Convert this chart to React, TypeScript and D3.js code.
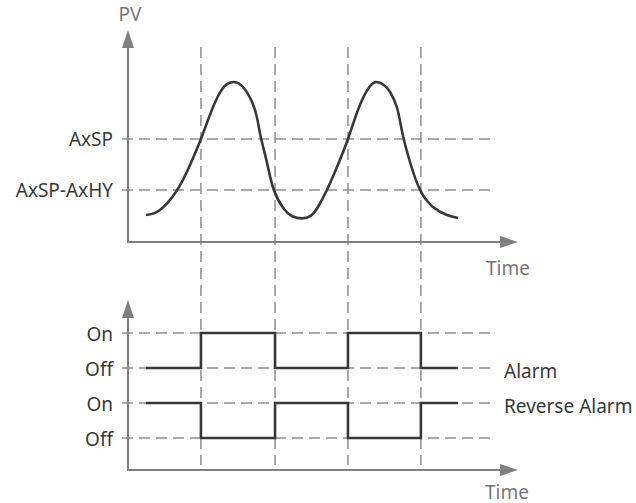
import React from "react";
import * as d3 from "d3";

// PV curve samples (time units 0..100, PV units 0..100)
const pvTime = [4.6, 8.2, 12.6, 15.9, 18.7, 21.0, 23.1, 25.1, 27.2, 29.5, 31.8, 33.1, 34.1, 35.6, 37.4, 40.0, 42.1, 44.6, 46.9, 48.7, 51.0, 53.8, 56.4, 58.5, 60.5, 62.1, 63.6, 65.6, 67.2, 69.0, 70.3, 72.3, 74.9, 78.2, 81.8, 84.6];
const pvValue = [13.5, 16, 26, 38.5, 51.5, 63.5, 73, 78.5, 80, 77.5, 70, 62, 52, 40, 26, 16.5, 12.9, 11.8, 13.2, 17.5, 26, 38.5, 51.5, 63.5, 73, 78, 80, 78.5, 75, 67, 55, 40, 26, 17.5, 13.5, 12];

// thresholds
const thresholdLabels = ["AxSP", "AxSP-AxHY"];
const thresholdValues = [51.5, 26];

// switching instants (time units) and signal run limits
const eventTimes = [18.7, 37.7, 56.4, 75.1];
const signalStart = 4.6;
const signalEnd = 84.6;
const alarmStates = [0, 1, 0, 1, 0]; // 1 = On
const reverseStates = [1, 0, 1, 0, 1];

const levelKeys = ["alarmOn", "alarmOff", "revOn", "revOff"];
const levelLabels = ["On", "Off", "On", "Off"];
const signalNames = ["Alarm", "Reverse Alarm"];

const W = 636;
const H = 503;
const FONT = "'Noto Sans', 'Open Sans', sans-serif";
const AXIS = "#7f7f80";
const DASH = "#8e8e8e";
const INK = "#383838";

export default function App() {
  const x = d3.scaleLinear().domain([0, 100]).range([128, 518]);
  const y = d3.scaleLinear().domain([0, 100]).range([242, 42]);
  const lvl = d3.scalePoint<string>().domain(levelKeys).range([333, 438]);

  const pvLine = d3
    .line<number>()
    .x((_, i) => x(pvTime[i]))
    .y((d) => y(d))
    .curve(d3.curveNatural);

  const stepPts = (states: number[], onKey: string, offKey: string) => {
    const times = [signalStart, ...eventTimes];
    const pts: [number, number][] = states.map((s, i) => [
      x(times[i]),
      lvl(s ? onKey : offKey) as number,
    ]);
    pts.push([x(signalEnd), lvl(states[states.length - 1] ? onKey : offKey) as number]);
    return d3.line().curve(d3.curveStepAfter)(pts) as string;
  };

  const x0 = x(0);
  const xEnd = x(100);
  const dashRight = 495;
  const topAxisY = y(0);
  const botAxisY = 470;

  const arrowUp = (cx: number, tip: number) =>
    `M${cx},${tip} L${cx - 6},${tip + 18} L${cx + 6},${tip + 18} Z`;
  const arrowRight = (cy: number, tip: number) =>
    `M${tip},${cy} L${tip - 18},${cy - 6} L${tip - 18},${cy + 6} Z`;

  return (
    <svg
      width={W}
      height={H}
      style={{ position: "absolute", left: 0, top: 0, background: "#fff" }}
      fontFamily={FONT}
    >
      {/* vertical dashed event lines */}
      {eventTimes.map((t, i) => (
        <line
          key={"v" + i}
          x1={x(t)}
          x2={x(t)}
          y1={47}
          y2={465}
          stroke={DASH}
          strokeWidth={1.5}
          strokeDasharray="11,6"
        />
      ))}
      {/* threshold dashed lines */}
      {thresholdValues.map((v, i) => (
        <g key={"t" + i}>
          <line
            x1={122}
            x2={dashRight}
            y1={y(v)}
            y2={y(v)}
            stroke={DASH}
            strokeWidth={1.5}
            strokeDasharray="11,6"
          />
          <text x={113} y={y(v) + 7} textAnchor="end" fontSize={19} fill={INK}>
            {thresholdLabels[i]}
          </text>
        </g>
      ))}
      {/* level dashed lines */}
      {levelKeys.map((k, i) => (
        <g key={"l" + k}>
          <line
            x1={122}
            x2={dashRight}
            y1={lvl(k)}
            y2={lvl(k)}
            stroke={DASH}
            strokeWidth={1.5}
            strokeDasharray="11,6"
          />
          <text x={113} y={(lvl(k) as number) + 8} textAnchor="end" fontSize={19} fill={INK}>
            {levelLabels[i]}
          </text>
        </g>
      ))}

      {/* top axes */}
      <line x1={x0} x2={x0} y1={46} y2={topAxisY} stroke={AXIS} strokeWidth={2} />
      <line x1={x0 - 1} x2={xEnd - 16} y1={topAxisY} y2={topAxisY} stroke={AXIS} strokeWidth={2} />
      <path d={arrowUp(x0, 30)} fill={AXIS} />
      <path d={arrowRight(topAxisY, xEnd)} fill={AXIS} />
      <text x={x0 + 2} y={21} textAnchor="middle" fontSize={19} fill="#777">PV</text>
      <text x={486} y={275} fontSize={19} fill="#777">Time</text>

      {/* bottom axes */}
      <line x1={x0} x2={x0} y1={316} y2={botAxisY} stroke={AXIS} strokeWidth={2} />
      <line x1={x0 - 1} x2={xEnd - 16} y1={botAxisY} y2={botAxisY} stroke={AXIS} strokeWidth={2} />
      <path d={arrowUp(x0, 300)} fill={AXIS} />
      <path d={arrowRight(botAxisY, xEnd)} fill={AXIS} />
      <text x={485} y={499} fontSize={19} fill="#777">Time</text>

      {/* PV curve */}
      <path d={pvLine(pvValue) as string} fill="none" stroke={INK} strokeWidth={2.6} />

      {/* signals */}
      <path d={stepPts(alarmStates, "alarmOn", "alarmOff")} fill="none" stroke={INK} strokeWidth={2.6} />
      <path d={stepPts(reverseStates, "revOn", "revOff")} fill="none" stroke={INK} strokeWidth={2.6} />

      <text x={504} y={(lvl("alarmOff") as number) + 10} fontSize={19} fill={INK}>
        {signalNames[0]}
      </text>
      <text x={504} y={(lvl("revOn") as number) + 10} fontSize={19} fill={INK}>
        {signalNames[1]}
      </text>
    </svg>
  );
}
